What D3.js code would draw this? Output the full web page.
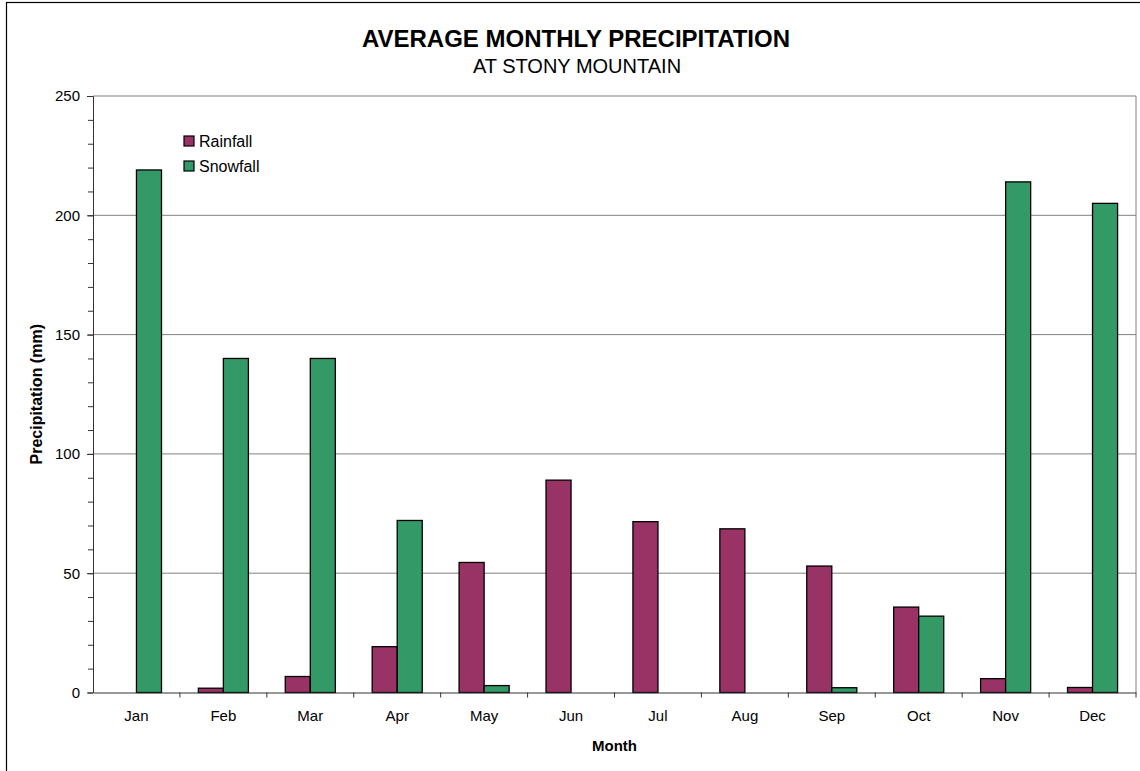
<!DOCTYPE html>
<html>
<head>
<meta charset="utf-8">
<script src="https://cdn.jsdelivr.net/npm/d3@7"></script>
<style>
  body { margin: 0; background: #fff; }
  text { font-family: "Liberation Sans", Arial, sans-serif; fill: #000; }
</style>
</head>
<body>
<div id="chart"></div>
<script>
// data
const months = ["Jan","Feb","Mar","Apr","May","Jun","Jul","Aug","Sep","Oct","Nov","Dec"]
const rainfall = [0, 1.8, 6.7, 19.2, 54.5, 89, 71.6, 68.6, 53, 35.8, 5.8, 2.1]
const snowfall = [219, 140, 140, 72.1, 2.9, 0, 0, 0, 2, 32, 214, 205]
const yTicks = [0, 50, 100, 150, 200, 250]
const seriesNames = ["Rainfall", "Snowfall"]
const colors = ["#993366", "#339966"]

const W = 1140, H = 771
let plot = { left: 93, top: 96, right: 1136, bottom: 692.5 }

let svg = d3.select("#chart").append("svg")
  .attr("width", W).attr("height", H)

// outer chart frame (runs off the page on right/bottom)
svg.append("rect")
  .attr("x", 6.5).attr("y", 2.5)
  .attr("width", W + 20).attr("height", H + 20)
  .attr("fill", "#fff").attr("stroke", "#000").attr("stroke-width", 1.2)

const x = d3.scaleBand().domain(months).range([plot.left, plot.right])
const y = d3.scaleLinear().domain([0, 250]).range([plot.bottom, plot.top])
const barW = x.bandwidth() * 0.288

//gridlines
svg.append("g").selectAll("line")
  .data(yTicks.filter(d => d > 0))
  .join("line")
  .attr("x1", plot.left).attr("x2", plot.right)
  .attr("y1", d => y(d)).attr("y2", d => y(d))
  .attr("stroke", "#808080").attr("stroke-width", 1)

// plot border right side
svg.append("line")
  .attr("x1", plot.right).attr("x2", plot.right)
  .attr("y1", plot.top).attr("y2", plot.bottom)
  .attr("stroke", "#808080")

// bars
let groups = months.map((m, i) => ({ m, vals: [rainfall[i], snowfall[i]] }))
svg.append("g").selectAll("g")
  .data(groups)
  .join("g")
  .selectAll("rect")
  .data(d => d.vals.map((v, k) => ({ m: d.m, v, k })).filter(d => d.v > 0))
  .join("rect")
  .attr("x", d => x(d.m) + x.bandwidth() / 2 - barW + d.k * barW)
  .attr("y", d => y(d.v))
  .attr("width", barW)
  .attr("height", d => y(0) - y(d.v))
  .attr("fill", d => colors[d.k])
  .attr("stroke", "#000").attr("stroke-width", 1.3)

// y axis with minor ticks
let yAxisG = svg.append("g")
  .attr("transform", "translate(" + plot.left + ",0)")
yAxisG.append("g")
  .call(d3.axisLeft(y).tickValues(d3.range(0, 251, 10)).tickFormat("").tickSize(5).tickSizeOuter(0))
yAxisG.append("g")
  .call(d3.axisLeft(y).tickValues(yTicks).tickSize(6).tickPadding(7).tickSizeOuter(0))
yAxisG.selectAll("path, line").attr("stroke", "#333")
yAxisG.selectAll("text").style("font-size", "15px").style("font-family", "Liberation Sans, Arial")

// x axis
let xAxisG = svg.append("g")
  .attr("transform", "translate(0," + plot.bottom + ")")
  .call(d3.axisBottom(x).tickSize(0).tickPadding(18).tickSizeOuter(0))
xAxisG.select("path").attr("stroke", "#333")
xAxisG.selectAll("text").style("font-size", "15px").style("font-family", "Liberation Sans, Arial")
// ticks between categories
svg.append("g").selectAll("line")
  .data(months.slice(1).concat(["end"]))
  .join("line")
  .attr("x1", d => d === "end" ? plot.right : x(d))
  .attr("x2", d => d === "end" ? plot.right : x(d))
  .attr("y1", plot.bottom).attr("y2", plot.bottom + 5)
  .attr("stroke", "#333")

// titles
svg.append("text")
  .attr("x", 576).attr("y", 47)
  .attr("text-anchor", "middle")
  .style("font-size", "24px").style("font-weight", "bold")
  .text("AVERAGE MONTHLY PRECIPITATION")
svg.append("text")
  .attr("x", 577).attr("y", 73)
  .attr("text-anchor", "middle")
  .style("font-size", "20px")
  .text("AT STONY MOUNTAIN")

svg.append("text")
  .attr("x", (plot.left + plot.right) / 2).attr("y", 751)
  .attr("text-anchor", "middle")
  .style("font-size", "15px").style("font-weight", "bold")
  .text("Month")

svg.append("text")
  .attr("transform", "translate(42," + ((plot.top + plot.bottom) / 2) + ") rotate(-90)")
  .attr("text-anchor", "middle")
  .style("font-size", "16px").style("font-weight", "bold")
  .text("Precipitation (mm)")

// legend
let legend = svg.append("g").selectAll("g")
  .data(seriesNames)
  .join("g")
  .attr("transform", (d, i) => "translate(184," + (136 + i * 25) + ")")
legend.append("rect")
  .attr("width", 10).attr("height", 10)
  .attr("fill", (d, i) => colors[i])
  .attr("stroke", "#000").attr("stroke-width", 1.2)
legend.append("text")
  .attr("x", 15).attr("y", 11)
  .style("font-size", "16px")
  .text(d => d)
</script>
</body>
</html>
